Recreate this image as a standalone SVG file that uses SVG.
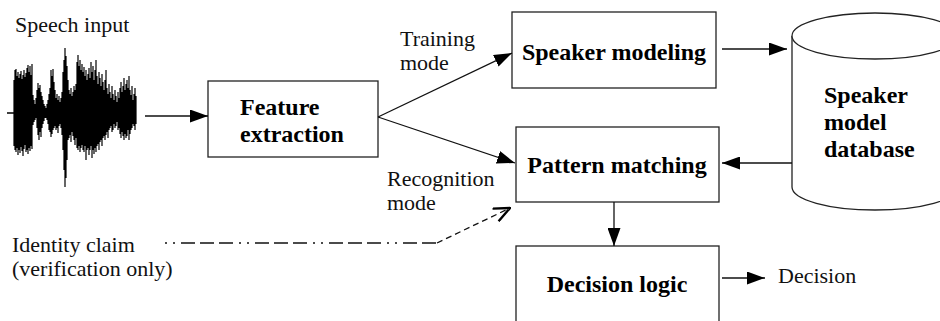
<svg xmlns="http://www.w3.org/2000/svg" width="940" height="321" viewBox="0 0 940 321">
<style>
  .box { fill: #ffffff; stroke: #222222; stroke-width: 1.3; }
  .lbl { font-family: 'Liberation Serif', 'Times New Roman', Times, 'DejaVu Serif', serif; font-size: 22px; fill: #111111; }
  .bold { font-family: 'Liberation Serif', 'Times New Roman', Times, 'DejaVu Serif', serif; font-size: 24px; font-weight: bold; fill: #000000; }
  .conn { fill: none; stroke: #111111; stroke-width: 1.3; }
  .wave { fill: none; stroke: #000000; stroke-width: 1.2; }
</style>
<defs>
  <marker id="tri" viewBox="0 0 18 13" refX="18" refY="6.5" markerWidth="18" markerHeight="13" markerUnits="userSpaceOnUse" orient="auto">
    <path d="M0,0 L18,6.5 L0,13 Z" fill="#000000"/>
  </marker>
  <marker id="open" viewBox="0 0 18 16" refX="17" refY="8" markerWidth="18" markerHeight="16" markerUnits="userSpaceOnUse" orient="auto">
    <path d="M1,1 L17,8 L1,15" fill="none" stroke="#000000" stroke-width="2.4"/>
  </marker>
</defs>
<rect width="940" height="321" fill="#ffffff"/>

<g id="speech-input">
  <text class="lbl" x="15" y="32" font-family="Liberation Serif, serif">Speech input</text>
  <line x1="7" y1="113" x2="136" y2="113" stroke="#000" stroke-width="1.3"/>
  <path class="wave" d="M14,80V146M15,70V150M16,69V152M17,76V148M18,72V155M19,78V150M20,74V153M21,71V147M22,79V151M23,75V156M24,70V149M25,77V145M26,73V152M27,68V150M28,65V154M29,72V148M30,66V151M31,75V146M32,64V149M33,95V125M34,100V122M35,104V120M36,98V118M37,90V128M38,83V135M39,88V140M40,85V132M41,92V137M42,96V128M43,100V124M44,104V121M45,106V118M46,108V118M47,104V120M48,100V124M49,94V130M50,88V132M51,70V137M52,76V134M53,69V130M54,82V128M55,90V126M56,98V130M57,94V128M58,100V133M59,96V126M60,102V124M61,98V128M62,92V135M63,72V150M64,60V170M65,48V187M66,56V178M67,66V160M68,80V140M69,90V138M70,94V135M71,88V142M72,96V132M73,92V136M74,86V140M75,90V145M76,84V138M77,62V148M78,55V150M79,66V146M80,60V152M81,70V148M82,64V145M83,72V150M84,67V152M85,76V146M86,70V160M87,80V150M88,74V148M89,68V155M90,78V150M91,62V146M92,72V158M93,66V150M94,80V154M95,70V148M96,60V152M97,76V146M98,84V144M99,72V150M100,78V142M101,86V140M102,74V146M103,82V138M104,90V136M105,80V140M106,70V135M107,88V132M108,94V138M109,84V130M110,92V128M111,98V126M112,86V132M113,94V130M114,100V124M115,90V128M116,96V126M117,102V122M118,92V130M119,98V128M120,88V134M121,82V138M122,92V132M123,86V136M124,78V140M125,90V134M126,84V138M127,80V136M128,88V130M129,76V140M130,90V134M131,95V130M132,86V128M133,100V124M134,94V126M135,88V130M136,96V124"/>
</g>

<g id="feature-extraction">
  <rect class="box" x="208" y="81" width="170" height="76"/>
  <text class="bold" x="240" y="115">Feature</text>
  <text class="bold" x="240" y="142">extraction</text>
</g>

<g id="speaker-modeling">
  <rect class="box" x="512" y="12" width="204" height="76"/>
  <text class="bold" x="614" y="60" text-anchor="middle">Speaker modeling</text>
</g>

<g id="pattern-matching">
  <rect class="box" x="516" y="127" width="203" height="75"/>
  <text class="bold" x="617" y="173" text-anchor="middle">Pattern matching</text>
</g>

<g id="decision-logic">
  <rect class="box" x="516" y="246" width="203" height="90"/>
  <text class="bold" x="617" y="292" text-anchor="middle">Decision logic</text>
</g>

<g id="speaker-model-database">
  <path class="box" d="M792,36 L792,187 A83,23 0 0 0 958,187 L958,36 A83,23 0 0 0 792,36 Z"/>
  <path class="box" d="M792,36 A83,23 0 0 0 958,36" fill="none"/>
  <text class="bold" x="824" y="103">Speaker</text>
  <text class="bold" x="824" y="130">model</text>
  <text class="bold" x="824" y="157">database</text>
</g>

<g id="labels">
  <text class="lbl" x="400" y="46">Training</text>
  <text class="lbl" x="400" y="70">mode</text>
  <text class="lbl" x="387" y="186">Recognition</text>
  <text class="lbl" x="387" y="210">mode</text>
  <text class="lbl" x="12" y="252">Identity claim</text>
  <text class="lbl" x="12" y="276">(verification only)</text>
  <text class="lbl" x="778" y="283">Decision</text>
</g>

<g id="connectors">
  <line class="conn" x1="145" y1="116" x2="208" y2="116" marker-end="url(#tri)"/>
  <line class="conn" x1="378" y1="117" x2="512" y2="53" marker-end="url(#tri)"/>
  <line class="conn" x1="378" y1="117" x2="515" y2="163" marker-end="url(#tri)"/>
  <line class="conn" x1="722" y1="49" x2="787" y2="49" marker-end="url(#tri)"/>
  <line class="conn" x1="792" y1="163" x2="722" y2="163" marker-end="url(#tri)"/>
  <line class="conn" x1="614" y1="202" x2="614" y2="246" marker-end="url(#tri)"/>
  <line class="conn" x1="722" y1="278" x2="765" y2="278" marker-end="url(#tri)"/>
  <line class="conn" x1="165" y1="243" x2="437" y2="243" stroke-dasharray="2,6,2,6,14,5,14,5,14,6"/>
  <line class="conn" x1="437" y1="243" x2="510" y2="208" stroke-dasharray="6,4" marker-end="url(#open)"/>
</g>
</svg>
